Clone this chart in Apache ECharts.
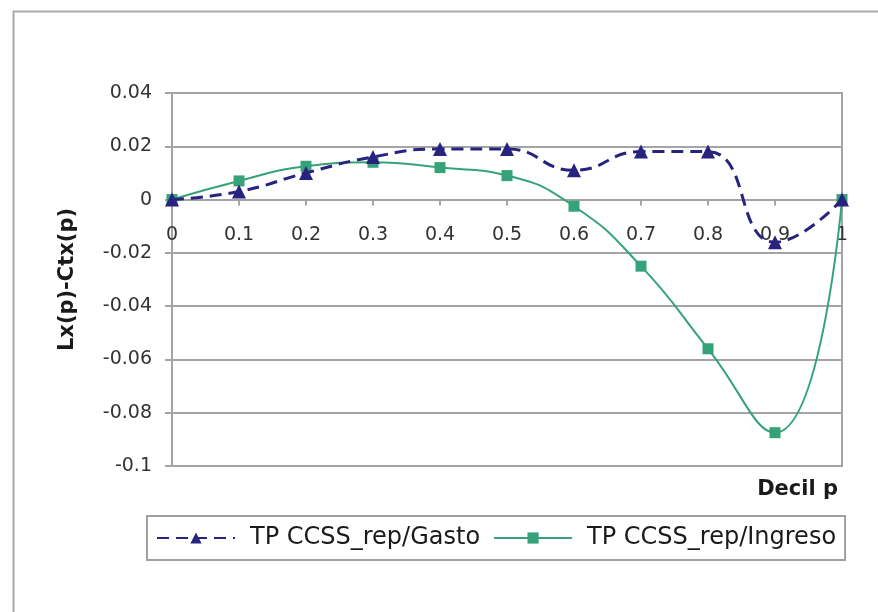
<!DOCTYPE html>
<html>
<head>
<meta charset="utf-8">
<script src="https://cdn.jsdelivr.net/npm/echarts@6/dist/echarts.min.js"></script>
<style>
html,body{margin:0;padding:0;background:#fff;}
#chart{width:878px;height:612px;}
</style>
</head>
<body>
<div id="chart"></div>
<script>
// Data
const deciles = [0, 0.1, 0.2, 0.3, 0.4, 0.5, 0.6, 0.7, 0.8, 0.9, 1];
const gastoValues = [0, 0.003, 0.010, 0.016, 0.019, 0.019, 0.011, 0.018, 0.018, -0.016, 0];
const ingresoValues = [0, 0.007, 0.0125, 0.014, 0.012, 0.009, -0.0025, -0.025, -0.056, -0.0875, 0];
const seriesNames = ['TP CCSS_rep/Gasto', 'TP CCSS_rep/Ingreso'];
const yAxisTitle = 'Lx(p)-Ctx(p)';
const xAxisTitle = 'Decil p';

const FONT = 'DejaVu Sans';
const GRID = '#a4a4a4';
const Y_MIN = -0.1, Y_MAX = 0.04;
const GRID_TOP = 93, GRID_BOTTOM = 146, CHART_H = 612;

// place the category axis on the y = 0 line (distance from plot bottom, in px)
const plotH = CHART_H - GRID_TOP - GRID_BOTTOM;
const zeroOffset = -plotH * (0 - Y_MIN) / (Y_MAX - Y_MIN);

const chart = echarts.init(document.getElementById('chart'));
chart.setOption({
  animation: false,
  backgroundColor: '#fff',
  title: {
    text: xAxisTitle,
    right: 40,
    top: 479,
    padding: 0,
    textStyle: { fontFamily: FONT, fontSize: 21, fontWeight: 'bold', color: '#1a1a1a' }
  },
  graphic: [{
    type: 'rect',
    left: 11, top: 9,
    shape: { width: 1000, height: 1000 },
    style: { fill: 'none', stroke: '#aaaaaa', lineWidth: 2 },
    silent: true
  }],
  grid: {
    left: 172, top: GRID_TOP, right: 36, bottom: GRID_BOTTOM,
    show: true, borderColor: GRID, borderWidth: 2, backgroundColor: 'transparent'
  },
  legend: {
    left: 147, top: 516,
    padding: [10, 9, 10, 9],
    itemGap: 13,
    itemWidth: 78,
    itemHeight: 14,
    borderColor: '#a0a0a0',
    borderWidth: 2,
    textStyle: { fontFamily: FONT, fontSize: 24, color: '#1a1a1a', padding: [0, 0, 0, 10] },
    data: seriesNames
  },
  xAxis: {
    type: 'value',
    position: 'bottom',
    offset: zeroOffset,
    min: 0, max: 1, interval: 0.1,
    axisLine: { onZero: false, lineStyle: { color: GRID, width: 2 } },
    axisTick: { show: true, length: 6, lineStyle: { color: GRID, width: 2 } },
    axisLabel: {
      margin: 26,
      fontFamily: FONT, fontSize: 19, color: '#333',
      formatter: v => String(+v.toFixed(1))
    },
    splitLine: { show: false }
  },
  yAxis: {
    type: 'value',
    min: Y_MIN, max: Y_MAX, interval: 0.02,
    name: yAxisTitle,
    nameLocation: 'middle',
    nameGap: 94,
    nameRotate: 90,
    nameTextStyle: { fontFamily: FONT, fontSize: 21, fontWeight: 'bold', color: '#1a1a1a' },
    axisLine: { show: true, lineStyle: { color: GRID, width: 2 } },
    axisTick: { show: true, length: 7, lineStyle: { color: GRID, width: 2 } },
    axisLabel: {
      margin: 20,
      fontFamily: FONT, fontSize: 19, color: '#333',
      formatter: v => String(+v.toFixed(2))
    },
    splitLine: { show: true, lineStyle: { color: GRID, width: 2 } }
  },
  series: [
    {
      name: seriesNames[0],
      type: 'line',
      smooth: 0.5,
      data: deciles.map((x, i) => [x, gastoValues[i]]),
      symbol: 'triangle',
      symbolSize: 14,
      z: 3,
      lineStyle: { color: '#27237e', width: 3, type: [12, 7] },
      itemStyle: { color: '#27237e' }
    },
    {
      name: seriesNames[1],
      type: 'line',
      smooth: 0.5,
      data: deciles.map((x, i) => [x, ingresoValues[i]]),
      symbol: 'rect',
      symbolSize: 11,
      z: 2,
      lineStyle: { color: '#35a27a', width: 2 },
      itemStyle: { color: '#35a27a' }
    }
  ]
});
</script>
</body>
</html>
